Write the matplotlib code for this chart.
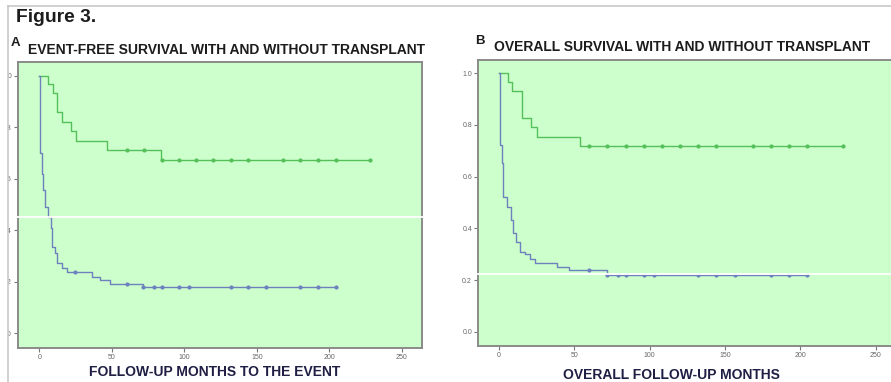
import numpy as np
import matplotlib
matplotlib.use("Agg")
import matplotlib.pyplot as plt
from matplotlib.lines import Line2D
from matplotlib.patches import Rectangle

plt.rcParams['font.family'] = ['Liberation Sans', 'DejaVu Sans']

# Panel A: event-free survival (Kaplan-Meier step points)
efs_tx_times = [0, 6.2, 9.2, 12.0, 15.4, 21.6, 25.1, 46.5, 84.0]
efs_tx_surv = [1.0, 0.967, 0.932, 0.858, 0.822, 0.787, 0.748, 0.712, 0.672]
efs_tx_censored = [60.3, 72.2, 84.5, 96.3, 108, 120, 132, 144, 168, 180, 192, 204.4, 228]

efs_notx_times = [0, 0.5, 1.6, 2.8, 3.9, 6.2, 7.8, 8.5, 10.8, 12.0, 15.4, 18.9,
                  36.1, 41.9, 48.8, 71.7]
efs_notx_surv = [1.0, 0.70, 0.62, 0.557, 0.49, 0.453, 0.408, 0.336, 0.311, 0.272,
                 0.252, 0.237, 0.22, 0.207, 0.191, 0.181]
efs_notx_censored = [24.6, 60.3, 71.7, 79, 84.4, 96.3, 103.2, 132, 144, 156, 180, 192, 204.4]

# Panel B: overall survival
os_tx_times = [0, 6.2, 8.4, 15.0, 15.5, 21.0, 25.0, 53.7]
os_tx_surv = [1.0, 0.967, 0.933, 0.897, 0.826, 0.793, 0.752, 0.719]
os_tx_censored = [59.7, 71.9, 84.1, 96, 108.2, 120.1, 132.3, 144.2, 168.3, 180.3,
                  192.2, 204.2, 228.5]

os_notx_times = [0, 0.7, 1.8, 2.9, 5.1, 7.8, 9.1, 11.3, 13.9, 17.3, 20.6, 23.9,
                 38.3, 46.4, 71.9]
os_notx_surv = [1.0, 0.723, 0.652, 0.522, 0.484, 0.432, 0.381, 0.348, 0.31, 0.30,
                0.28, 0.265, 0.252, 0.239, 0.218]
os_notx_censored = [59.7, 71.9, 78.8, 84.1, 96, 103.1, 132.3, 144.2, 156.4, 180.5,
                    192.4, 204.4]

x_ticks = [0, 50, 100, 150, 200, 250]
y_ticks = [0.0, 0.2, 0.4, 0.6, 0.8, 1.0]

GREEN = '#55c05a'
BLUE = '#6e80bd'
BG = '#ccffcc'


def km_curve(ax, times, surv, censored, color):
    t = list(times) + [max(censored)]
    s = list(surv) + [surv[-1]]
    ax.step(t, s, where='post', color=color, lw=1.0, zorder=3)
    idx = np.searchsorted(times, censored, side='right') - 1
    ax.plot(censored, np.array(surv)[idx], 'o', color=color, ms=2.0,
            mec=color, zorder=4)


def style_axes(ax, xlim, ylim):
    ax.set_facecolor(BG)
    ax.set_xlim(*xlim)
    ax.set_ylim(*ylim)
    ax.set_xticks(x_ticks)
    ax.set_yticks(y_ticks)
    ax.set_xticklabels([str(v) for v in x_ticks])
    ax.set_yticklabels(['%.1f' % v for v in y_ticks])
    ax.tick_params(length=3, width=0.8, color='#777777', labelsize=5,
                   labelcolor='#666666', pad=1.5)
    for sp in ax.spines.values():
        sp.set_color('#8a8a8a')
        sp.set_linewidth(1.4)


fig = plt.figure(figsize=(8.91, 3.82), dpi=100)
W, H = 891, 382


def px_axes(l, t, r, b):
    return fig.add_axes([l / W, 1 - b / H, (r - l) / W, (b - t) / H])


axA = px_axes(18, 62, 422, 347.5)
style_axes(axA, (-14.7, 263.9), (-0.055, 1.054))
km_curve(axA, efs_tx_times, efs_tx_surv, efs_tx_censored, GREEN)
km_curve(axA, efs_notx_times, efs_notx_surv, efs_notx_censored, BLUE)

axB = px_axes(478.3, 59.5, 893, 346)
style_axes(axB, (-13.7, 261.4), (-0.055, 1.053))
km_curve(axB, os_tx_times, os_tx_surv, os_tx_censored, GREEN)
km_curve(axB, os_notx_times, os_notx_surv, os_notx_censored, BLUE)


def fx(x):
    return x / W


def fy(y):
    return 1 - y / H


# white scan lines across the panels
fig.add_artist(Line2D([fx(0), fx(423)], [fy(217.5), fy(217.5)], color='white', lw=1.3, zorder=5))
fig.add_artist(Line2D([fx(478), fx(891)], [fy(274), fy(274)], color='white', lw=1.3, zorder=5))

# page crop: white margin and grey border lines
fig.add_artist(Rectangle((0, 0), fx(7.5), 1, transform=fig.transFigure,
                         facecolor='white', edgecolor='none', zorder=6))
fig.add_artist(Rectangle((0, fy(6)), 1, 1 - fy(6), transform=fig.transFigure,
                         facecolor='white', edgecolor='none', zorder=6))
fig.add_artist(Line2D([fx(7.5), fx(7.5)], [0, fy(6)], color='#c8c8c8', lw=1.2, zorder=7))
fig.add_artist(Line2D([fx(7.5), 1], [fy(6), fy(6)], color='#c8c8c8', lw=1.2, zorder=7))

dark = '#1c1c1c'
navy = '#1f1f45'
fig.text(fx(16), fy(18), 'Figure 3.', fontsize=13.9, fontweight='bold',
         color=dark, va='center', ha='left')
fig.text(fx(11), fy(43), 'A', fontsize=9.5, fontweight='bold', color=dark,
         va='center', ha='left')
fig.text(fx(28), fy(50), 'EVENT-FREE SURVIVAL WITH AND WITHOUT TRANSPLANT',
         fontsize=10, fontweight='bold', color=dark, va='center', ha='left')
fig.text(fx(475), fy(41), 'B', fontsize=9.5, fontweight='bold', color=dark,
         va='center', ha='left')
fig.text(fx(494), fy(47), 'OVERALL SURVIVAL WITH AND WITHOUT TRANSPLANT',
         fontsize=10, fontweight='bold', color=dark, va='center', ha='left')
fig.text(fx(214.5), fy(372), 'FOLLOW-UP MONTHS TO THE EVENT', fontsize=10,
         fontweight='bold', color=navy, va='center', ha='center')
fig.text(fx(671), fy(375), 'OVERALL FOLLOW-UP MONTHS', fontsize=10,
         fontweight='bold', color=navy, va='center', ha='center')

fig.savefig('out.png', dpi=100)
